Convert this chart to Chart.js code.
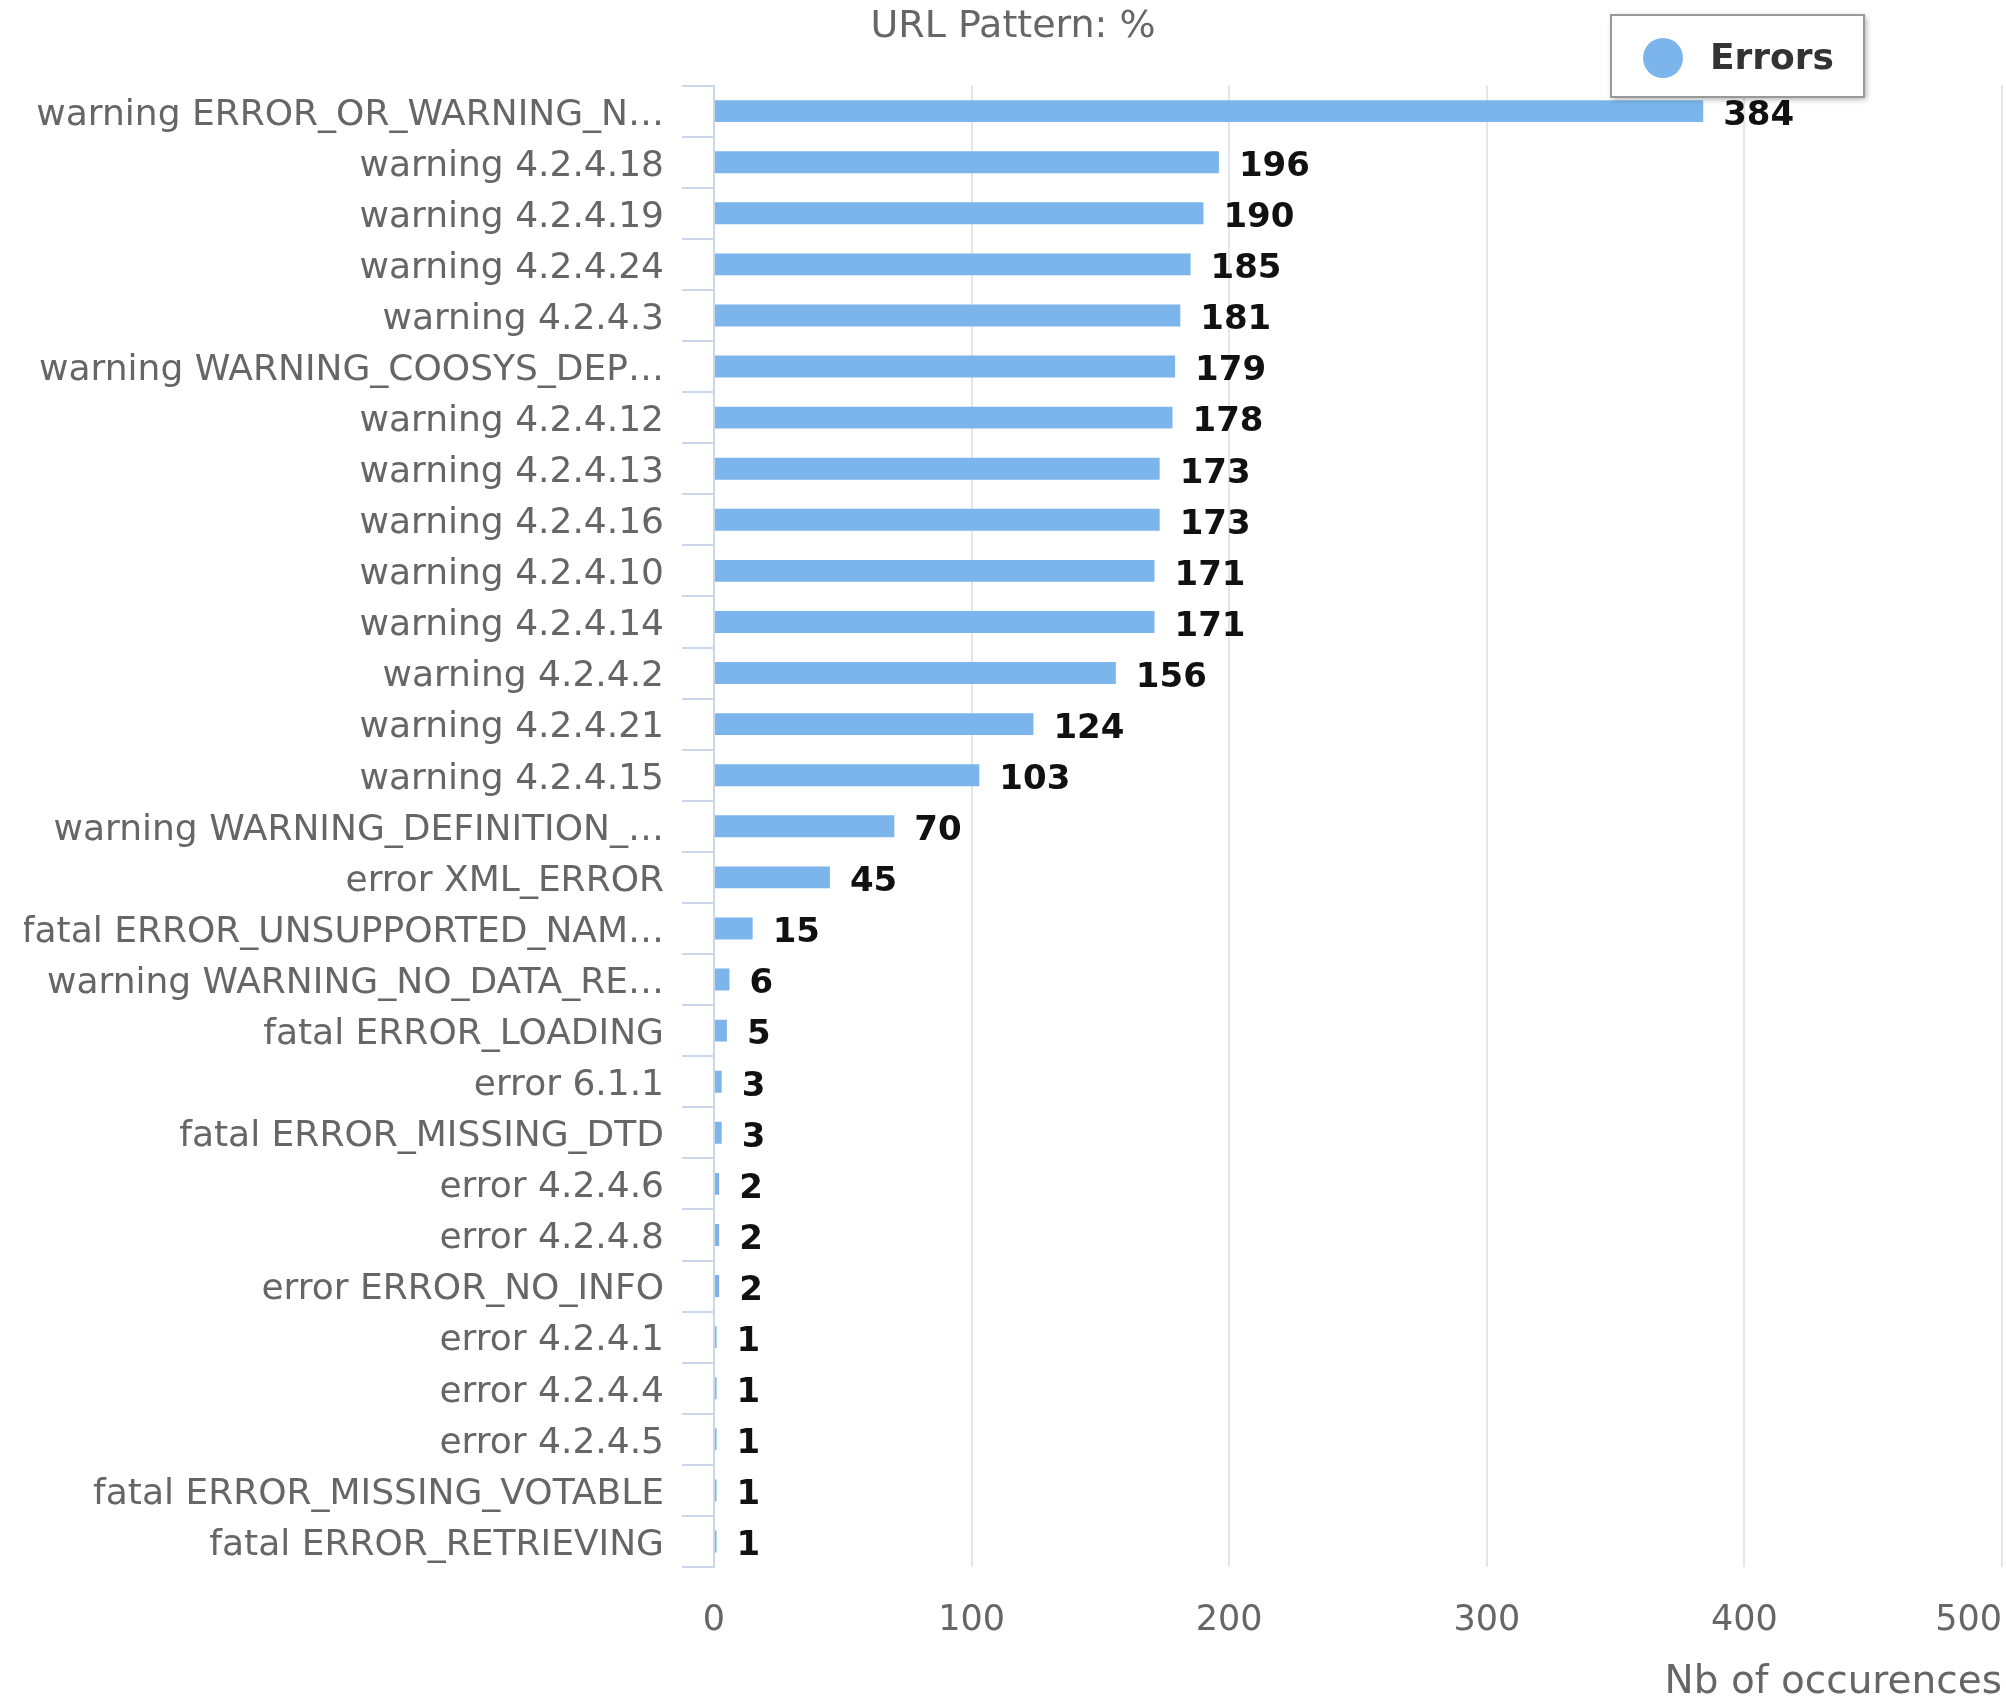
<!DOCTYPE html>
<html lang="en">
<head>
  <meta charset="UTF-8">
  <title>URL Pattern: %</title>
  <script src="https://cdn.jsdelivr.net/npm/chart.js"></script>
  <style>
    html, body { margin: 0; padding: 0; background: #fff; }
    #wrap { width: 2006px; height: 1702px; }
  </style>
</head>
<body>
  <div id="wrap">
    <canvas id="errorsChart" width="2006" height="1702"></canvas>
  </div>

  <script>
    // Categories (y axis) and values
    const categories = [
      'warning ERROR_OR_WARNING_N…',
      'warning 4.2.4.18',
      'warning 4.2.4.19',
      'warning 4.2.4.24',
      'warning 4.2.4.3',
      'warning WARNING_COOSYS_DEP…',
      'warning 4.2.4.12',
      'warning 4.2.4.13',
      'warning 4.2.4.16',
      'warning 4.2.4.10',
      'warning 4.2.4.14',
      'warning 4.2.4.2',
      'warning 4.2.4.21',
      'warning 4.2.4.15',
      'warning WARNING_DEFINITION_…',
      'error XML_ERROR',
      'fatal ERROR_UNSUPPORTED_NAM…',
      'warning WARNING_NO_DATA_RE…',
      'fatal ERROR_LOADING',
      'error 6.1.1',
      'fatal ERROR_MISSING_DTD',
      'error 4.2.4.6',
      'error 4.2.4.8',
      'error ERROR_NO_INFO',
      'error 4.2.4.1',
      'error 4.2.4.4',
      'error 4.2.4.5',
      'fatal ERROR_MISSING_VOTABLE',
      'fatal ERROR_RETRIEVING'
    ];
    const errorCounts = [384, 196, 190, 185, 181, 179, 178, 173, 173, 171, 171, 156, 124, 103, 70, 45, 15, 6, 5, 3, 3, 2, 2, 2, 1, 1, 1, 1, 1];
    const seriesName = 'Errors';
    const chartTitle = 'URL Pattern: %';
    const xAxisTitle = 'Nb of occurences';
    const xMin = 0, xMax = 500, xStep = 100;

    const FONT = '"DejaVu Sans", Verdana, sans-serif';
    const barColor = '#7cb5ec';

    Chart.defaults.font.family = FONT;

    // value labels at the end of each bar
    const valueLabels = {
      id: 'valueLabels',
      afterDatasetsDraw(chart) {
        const ctx = chart.ctx;
        const meta = chart.getDatasetMeta(0);
        const data = chart.data.datasets[0].data;
        ctx.save();
        ctx.font = 'bold 34px ' + FONT;
        ctx.fillStyle = '#111';
        ctx.textAlign = 'left';
        ctx.textBaseline = 'middle';
        meta.data.forEach((bar, i) => {
          ctx.fillText(String(data[i]), bar.x + 20, bar.y + 5);
        });
        ctx.restore();
      }
    };

    // 'inner' keeps the last x label (500) inside the canvas,
    // but the first one (0) should stay centred on its tick
    const centerFirstXLabel = {
      id: 'centerFirstXLabel',
      beforeDraw(chart) {
        const items = chart.scales.x.getLabelItems(chart.chartArea);
        if (items && items.length && items[0].options) {
          items[0].options.textAlign = 'center';
        }
      }
    };

    // floating legend box in the top right corner
    const floatingLegend = {
      id: 'floatingLegend',
      afterDraw(chart) {
        const ctx = chart.ctx;
        const ds = chart.data.datasets[0];
        const x = 1611, y = 15, w = 253, h = 82;
        ctx.save();
        ctx.shadowColor = 'rgba(0,0,0,0.35)';
        ctx.shadowBlur = 6;
        ctx.shadowOffsetX = 2;
        ctx.shadowOffsetY = 2;
        ctx.fillStyle = '#fff';
        ctx.fillRect(x, y, w, h);
        ctx.shadowColor = 'transparent';
        ctx.strokeStyle = '#999';
        ctx.lineWidth = 2;
        ctx.strokeRect(x, y, w, h);
        ctx.beginPath();
        ctx.arc(x + 52, y + 43, 20, 0, Math.PI * 2);
        ctx.fillStyle = ds.backgroundColor;
        ctx.fill();
        ctx.font = 'bold 36px ' + FONT;
        ctx.fillStyle = '#333';
        ctx.textBaseline = 'middle';
        ctx.fillText(ds.label, x + 99, y + 45);
        ctx.restore();
      }
    };

    new Chart(document.getElementById('errorsChart').getContext('2d'), {
      type: 'bar',
      data: {
        labels: categories,
        datasets: [{
          label: seriesName,
          data: errorCounts,
          backgroundColor: barColor,
          borderWidth: 0,
          categoryPercentage: 1,
          barPercentage: 0.43
        }]
      },
      options: {
        indexAxis: 'y',
        responsive: false,
        animation: false,
        layout: { padding: { left: 24, right: 4, top: 0, bottom: 0 } },
        plugins: {
          legend: { display: false },
          tooltip: { enabled: false },
          title: {
            display: true,
            text: chartTitle,
            color: '#666',
            font: { size: 38, weight: 'normal' },
            padding: { top: 4, bottom: 36 }
          }
        },
        scales: {
          x: {
            type: 'linear',
            position: 'bottom',
            min: xMin,
            max: xMax,
            ticks: {
              stepSize: xStep,
              color: '#666',
              font: { size: 35 },
              padding: 33,
              align: 'inner'
            },
            grid: {
              color: c => (c.tick && c.tick.value === 0) ? 'rgba(0,0,0,0)' : '#e6e6e6',
              lineWidth: 2,
              drawTicks: false
            },
            border: { display: false },
            title: {
              display: true,
              text: xAxisTitle,
              align: 'end',
              color: '#666',
              font: { size: 39, lineHeight: 1 },
              padding: { top: 0, bottom: 0 }
            },
            afterFit(scale) {
              scale.height = 135;
              scale.paddingRight = 0;
              scale.paddingLeft = 0;
            }
          },
          y: {
            type: 'category',
            offset: true,
            ticks: {
              color: '#666',
              font: { size: 36 },
              padding: 18,
              labelOffset: 4,
              autoSkip: false
            },
            grid: {
              offset: true,
              drawOnChartArea: false,
              drawTicks: true,
              tickLength: 32,
              color: '#ccd6eb',
              lineWidth: 2
            },
            border: { display: true, color: '#ccd6eb', width: 2 },
            afterFit(scale) {
              scale.width = 690;
              scale.paddingTop = 0;
              scale.paddingBottom = 0;
            }
          }
        }
      },
      plugins: [valueLabels, centerFirstXLabel, floatingLegend]
    });
  </script>
</body>
</html>
